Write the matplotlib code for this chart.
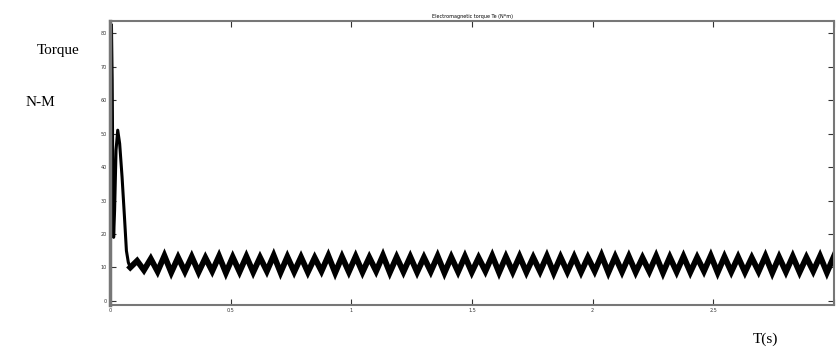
import numpy as np
import matplotlib.pyplot as plt

# start-up transient (t in s, torque in N-M)
t_start = [0.0, 0.003, 0.006, 0.009, 0.012, 0.015, 0.019, 0.025, 0.032, 0.040, 0.050, 0.060, 0.068, 0.076, 0.084]
torque_start = [0.0, 60.0, 82.5, 66.0, 35.0, 19.0, 27.0, 45.0, 51.0, 47.0, 37.0, 25.0, 15.0, 11.5, 10.0]

# steady-state ripple: successive highs and lows of the band
ripple_hi = [12.0, 12.6, 13.5, 13.0, 13.2, 12.9, 13.4, 13.1, 13.3, 13.0, 13.6, 13.2,
             13.1, 12.9, 13.5, 13.2, 13.3, 13.0, 13.6, 13.1, 13.2, 13.0, 13.4, 13.1,
             13.3, 12.9, 13.5, 13.2, 13.3, 13.0, 13.4, 13.1, 13.2, 13.0, 13.6, 13.2,
             13.3, 12.9, 13.4, 13.1, 13.3, 13.0, 13.5, 13.2, 13.1, 12.9, 13.4, 13.1,
             13.3, 13.0, 13.4, 13.2]
ripple_lo = [9.2, 8.8, 8.5, 8.8, 8.6, 8.9, 8.4, 8.7, 8.6, 8.9, 8.5, 8.7,
             8.6, 8.9, 8.4, 8.7, 8.6, 8.9, 8.5, 8.7, 8.6, 8.8, 8.4, 8.7,
             8.6, 8.9, 8.5, 8.7, 8.6, 8.8, 8.4, 8.7, 8.6, 8.9, 8.5, 8.7,
             8.6, 8.8, 8.4, 8.7, 8.6, 8.9, 8.5, 8.7, 8.6, 8.8, 8.4, 8.7,
             8.6, 8.9, 8.5, 8.7]
ripple_half_period = 0.0283

x_ticks = [0, 0.5, 1, 1.5, 2, 2.5, 3]
x_tick_labels = ["0", "0.5", "1", "1.5", "2", "2.5", ""]
y_ticks = [0, 10, 20, 30, 40, 50, 60, 70, 80]

ripple = []
for hi, lo in zip(ripple_hi, ripple_lo):
    ripple += [hi, lo]
t_ripple = t_start[-1] + ripple_half_period * (np.arange(len(ripple)) + 1)

fig = plt.figure(figsize=(8.36, 3.5), dpi=100)
ax = fig.add_axes([110 / 836, 45 / 350, 724 / 836, 284 / 350])
ax.plot(t_start, torque_start, color="black", lw=2.2)
ax.plot(np.concatenate([[t_start[-1]], t_ripple]),
        np.concatenate([[torque_start[-1]], ripple]),
        color="black", lw=4.2, solid_joinstyle="miter")

ax.set_xlim(0, 3)
ax.set_ylim(-1.2, 83.6)
ax.set_xticks(x_ticks)
ax.set_xticklabels(x_tick_labels)
ax.set_yticks(y_ticks)
ax.tick_params(direction="in", top=True, right=True, length=4, width=0.8,
               labelsize=3.5, colors="#333333", pad=2)
for s in ax.spines.values():
    s.set_color("#777777")
    s.set_linewidth(1.5)
ax.spines["left"].set_linewidth(2.5)
ax.set_title("Electromagnetic torque Te (N*m)", fontsize=3.5, pad=2)

fig.text(0.069, 0.857, "Torque", family="Liberation Serif", fontsize=11,
         ha="center", va="center")
fig.text(0.048, 0.706, "N-M", family="Liberation Serif", fontsize=11,
         ha="center", va="center")
fig.text(0.915, 0.03, "T(s)", family="Liberation Serif", fontsize=11,
         ha="center", va="center")

fig.savefig("out.png", dpi=100)
